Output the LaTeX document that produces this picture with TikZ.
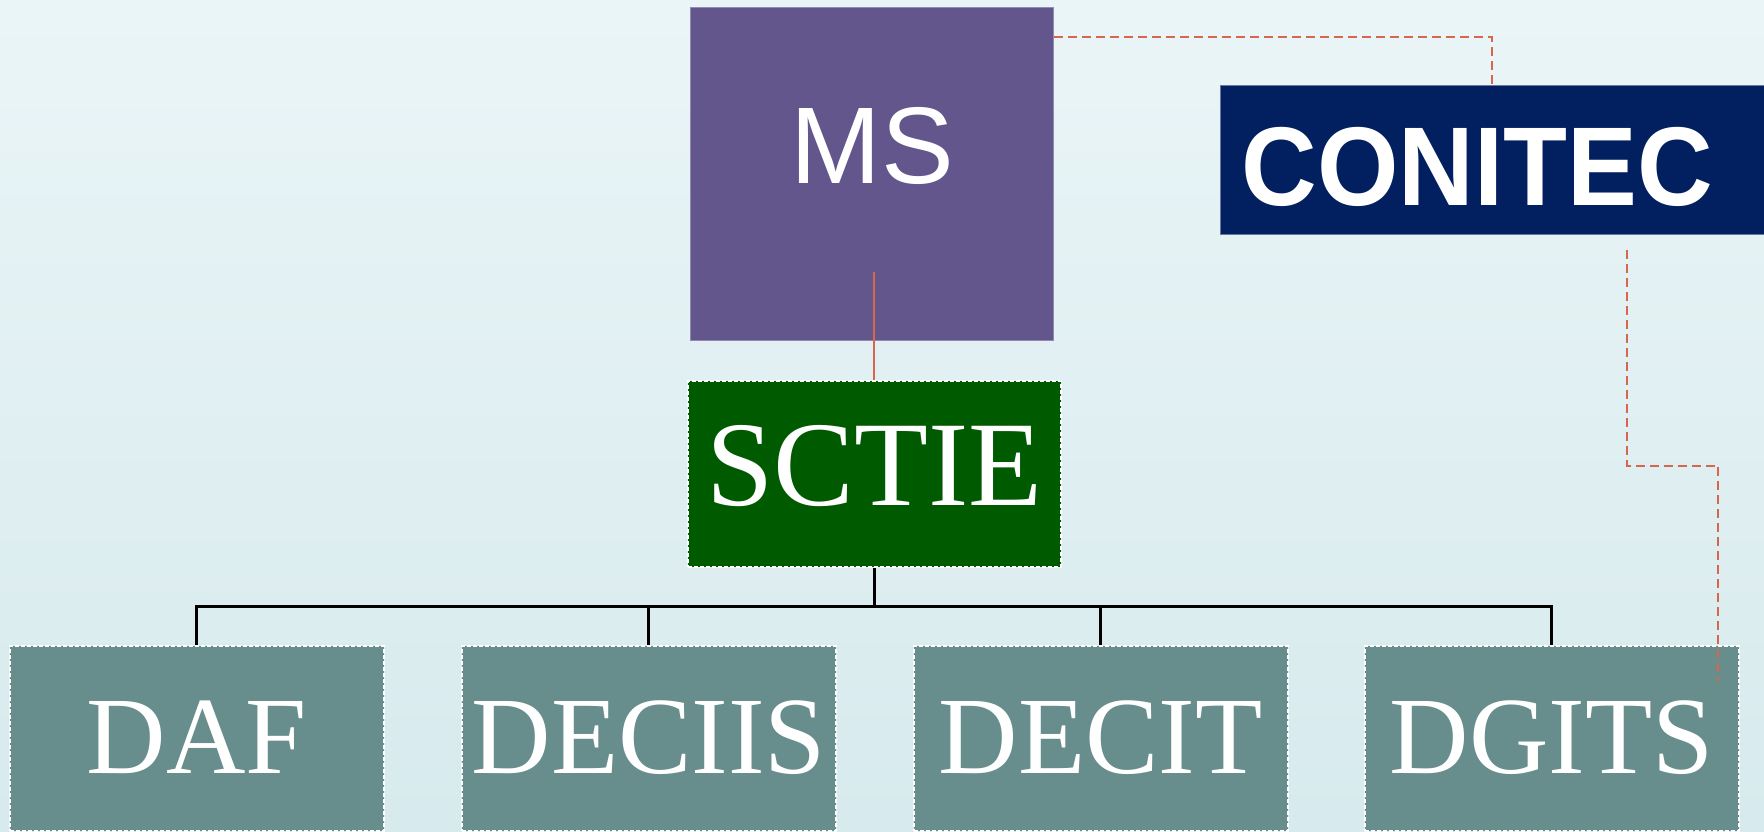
\documentclass[tikz,border=0pt]{standalone}
\usepackage{fontspec}
\setmainfont{Liberation Serif}
\newfontfamily\arialf{Liberation Sans}
\usetikzlibrary{calc}
\definecolor{bgtop}{HTML}{EAF5F7}
\definecolor{bgbot}{HTML}{D7EAED}
\definecolor{msfill}{HTML}{62568D}
\definecolor{conifill}{HTML}{022060}
\definecolor{sctiefill}{HTML}{005A00}
\definecolor{tealfill}{HTML}{678D8D}
\definecolor{orng}{HTML}{D8664A}
\tikzset{
  boxbase/.style={rectangle, inner sep=0pt, anchor=north west},
  dashbox/.style={boxbase, draw=white, dash pattern=on 4pt off 2pt, line width=1.6pt,
     preaction={draw=gray!60, line width=1.6pt}},
  subbox/.style={dashbox, fill=tealfill, minimum width=374pt, minimum height=185pt},
  sertext/.style={text=white, inner sep=0pt, anchor=base, font=\fontsize{110}{110}\selectfont},
  orgdash/.style={draw=orng, line width=2pt, dash pattern=on 9pt off 5pt},
  orgline/.style={draw=orng, line width=2pt},
  treeline/.style={draw=black, line width=3pt}
}
\begin{document}
\begin{tikzpicture}[x=1pt,y=-1pt]
\useasboundingbox (0,0) rectangle (1764,831);
\shade[top color=bgtop, bottom color=bgbot] (0,0) rectangle (1764,831);
% boxes
\node[boxbase, fill=msfill, draw=msfill!70!white, line width=1pt, minimum width=363pt, minimum height=333pt] (ms) at (690,7) {};
\node[boxbase, fill=conifill, draw=conifill!60!white, line width=1pt, minimum width=550pt, minimum height=149pt] (coni) at (1220,85) {};
\node[dashbox, fill=sctiefill, minimum width=373pt, minimum height=186pt] (sctie) at (687,380) {};
\node[subbox] (daf) at (9,645) {};
\node[subbox] (deciis) at (461,645) {};
\node[subbox] (decit) at (913,645) {};
\node[subbox] (dgits) at (1364,645) {};
% texts
\node[text=white, inner sep=0pt, anchor=base, font=\arialf\fontsize{109}{109}\selectfont] (mst) at (872,183) {MS};
\node[text=white, inner sep=0pt, anchor=base, font=\arialf\bfseries\fontsize{112}{112}\selectfont] (conit) at (1477,205) {\scalebox{0.935}[1]{CONITEC}};
\node[sertext, font=\fontsize{121}{121}\selectfont] (sctiet) at (sctie.center |- 0,505) {SCTIE};
\node[sertext] (daft) at (daf.center |- 0,773) {DAF};
\node[sertext] (deciist) at (deciis.center |- 0,773) {DECIIS};
\node[sertext] (decitt) at (decit.center |- 0,773) {DECIT};
\node[sertext] (dgitst) at (dgits.center |- 0,773) {DGITS};
% connectors
\coordinate (m1) at (sctie.north |- 0,272);
\draw[orgline] (m1) -- (sctie.north);
\draw[orgdash] (ms.north east) ++(0,30) -| (coni.north -| 1492,0) -- ++(0,-4);
\coordinate (c1) at (1627,250);
\coordinate (c2) at (1718,681);
\draw[orgdash] (c1) |- ($(c1)!.5!(c2)$) -| (c2);
\coordinate (bus) at ($(sctie.south)+(0,39)$);
\draw[treeline] (sctie.south) -- (bus);
\draw[treeline] (daf.north) |- (bus) -| (dgits.north);
\draw[treeline] (deciis.north) -- (deciis.north |- bus);
\draw[treeline] (decit.north) -- (decit.north |- bus);
\end{tikzpicture}
\end{document}
